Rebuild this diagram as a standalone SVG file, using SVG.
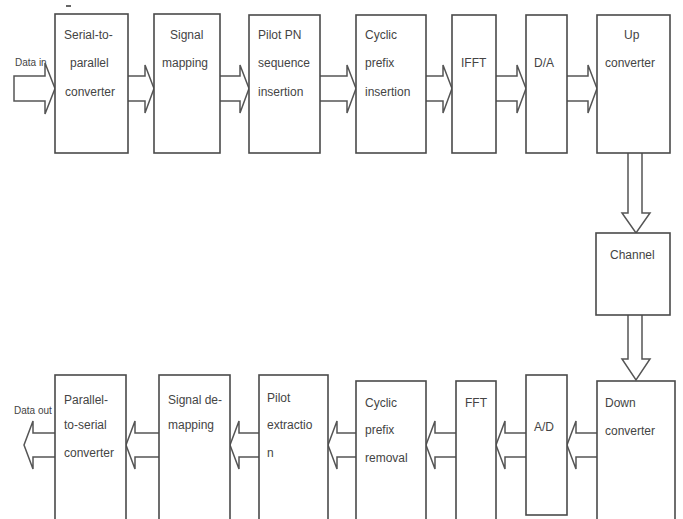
<svg xmlns="http://www.w3.org/2000/svg" width="683" height="519" viewBox="0 0 683 519">
<style>
.box{fill:#fff;stroke:#4a4a4a;stroke-width:1.6}
.arr{fill:#fff;stroke:#555;stroke-width:1.5;stroke-linejoin:miter}
text{font-family:"Liberation Sans",Arial,sans-serif;font-size:12px;fill:#444}
.sm{font-size:10px}
</style>
<rect width="683" height="519" fill="#fff"/>
<line x1="66" y1="6" x2="71" y2="6" stroke="#333" stroke-width="1.5"/>
<text class="sm" x="15" y="66">Data in</text>
<g id="connectors">
<path class="arr" d="M14,76 H45 V63 L55,88.5 L45,114 V101 H14 Z"/>
<path class="arr" d="M128,76 H145 V65 L154,88.5 L145,113 V101 H128"/>
<path class="arr" d="M220,76 H240 V65 L249,88.5 L240,113 V101 H220"/>
<path class="arr" d="M320,76 H347 V65 L356,88.5 L347,113 V101 H320"/>
<path class="arr" d="M426,76 H443 V65 L452,88.5 L443,113 V101 H426"/>
<path class="arr" d="M496,76 H517 V65 L526,88.5 L517,113 V101 H496"/>
<path class="arr" d="M567,76 H588 V65 L597,88.5 L588,113 V101 H567"/>
<path class="arr" d="M628,153 V213 H622 L636,233 L650,213 H642 V153"/>
<path class="arr" d="M628,315 V359 H622 L636,380 L650,359 H642 V315"/>
<path class="arr" d="M597,433 H576 V421 L567,445 L576,469 V457 H597"/>
<path class="arr" d="M526,433 H505 V421 L496,445 L505,469 V457 H526"/>
<path class="arr" d="M456,433 H435 V421 L426,445 L435,469 V457 H456"/>
<path class="arr" d="M356,433 H337 V421 L328,445 L337,469 V457 H356"/>
<path class="arr" d="M259,433 H239 V421 L230,445 L239,469 V457 H259"/>
<path class="arr" d="M159,433 H135 V421 L126,445 L135,469 V457 H159"/>
<path class="arr" d="M55,433 H33 V421 L24,445 L33,469 V457 H55"/>
</g>
<text class="sm" x="14" y="414">Data out</text>
<g id="s2p"><rect class="box" x="55" y="14" width="73" height="139"/>
<text x="64" y="39">Serial-to-</text><text x="70" y="67">parallel</text><text x="65" y="96">converter</text></g>
<g id="sigmap"><rect class="box" x="154" y="14" width="66" height="139"/>
<text x="170" y="39">Signal</text><text x="162" y="67">mapping</text></g>
<g id="pilotins"><rect class="box" x="249" y="15" width="71" height="138"/>
<text x="258" y="39">Pilot PN</text><text x="258" y="67">sequence</text><text x="258" y="96">insertion</text></g>
<g id="cpins"><rect class="box" x="356" y="15" width="70" height="138"/>
<text x="365" y="39">Cyclic</text><text x="365" y="67">prefix</text><text x="365" y="96">insertion</text></g>
<g id="ifft"><rect class="box" x="452" y="15" width="44" height="138"/>
<text x="461" y="67">IFFT</text></g>
<g id="da"><rect class="box" x="526" y="15" width="41" height="138"/>
<text x="534" y="67">D/A</text></g>
<g id="up"><rect class="box" x="597" y="15" width="73" height="138"/>
<text x="624" y="39">Up</text><text x="605" y="67">converter</text></g>
<g id="channel"><rect class="box" x="596" y="233" width="74" height="82"/>
<text x="610" y="259">Channel</text></g>
<g id="down"><rect class="box" x="597" y="381" width="78" height="150"/>
<text x="605" y="407">Down</text><text x="605" y="435">converter</text></g>
<g id="ad"><rect class="box" x="526" y="375" width="41" height="140"/>
<text x="534" y="431">A/D</text></g>
<g id="fft"><rect class="box" x="456" y="381" width="40" height="150"/>
<text x="465" y="407">FFT</text></g>
<g id="cprem"><rect class="box" x="356" y="381" width="70" height="150"/>
<text x="365" y="407">Cyclic</text><text x="365" y="434">prefix</text><text x="365" y="462">removal</text></g>
<g id="pilotext"><rect class="box" x="259" y="375" width="69" height="156"/>
<text x="267" y="402">Pilot</text><text x="267" y="429">extractio</text><text x="267" y="457">n</text></g>
<g id="sigdemap"><rect class="box" x="159" y="375" width="71" height="156"/>
<text x="168" y="404">Signal de-</text><text x="168" y="429">mapping</text></g>
<g id="p2s"><rect class="box" x="55" y="375" width="71" height="156"/>
<text x="64" y="404">Parallel-</text><text x="64" y="429">to-serial</text><text x="64" y="457">converter</text></g>
</svg>
